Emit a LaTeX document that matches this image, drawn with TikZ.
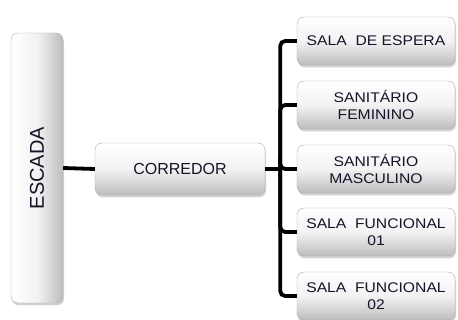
\documentclass[tikz,border=0pt]{standalone}
\usepackage{fontspec}
\usepackage{graphicx}
\setmainfont{Liberation Sans}
\newfontfamily\largo{Liberation Sans}[FakeStretch=1.12]
\usetikzlibrary{shadows}
\definecolor{texto}{RGB}{20,20,40}
\definecolor{borda}{RGB}{170,170,170}
\begin{document}
\begin{tikzpicture}[x=1pt,y=-1pt,
    caixa/.style={draw=borda, rounded corners=7pt, top color=white, bottom color=black!26,
      middle color=black!5, text=texto, align=center, inner sep=0pt,
      drop shadow={shadow xshift=1pt, shadow yshift=-2.5pt, opacity=0.35}},
    sala/.style={caixa, minimum width=158pt, minimum height=48pt,
      font=\largo\fontsize{14}{16.5}\selectfont},
    ligacao/.style={line width=3.8pt, rounded corners=5pt}]
  \useasboundingbox (0,0) rectangle (458,320);
  % escada e corredor
  \node[caixa, left color=white, right color=black!26, middle color=black!5,
    minimum width=52pt, minimum height=270pt] (escada) at (37,168)
    {\rotatebox{90}{\fontsize{20}{20}\selectfont ESCADA}};
  \node[caixa, minimum width=170pt, minimum height=52pt,
    font=\fontsize{16}{18}\selectfont] (corredor) at (180,169) {CORREDOR};
  % salas
  \foreach \nome/\cy/\txt in {espera/41/{SALA\ \ DE ESPERA},
      feminino/105/{SANIT\'ARIO\\FEMININO},
      masculino/169/{SANIT\'ARIO\\MASCULINO},
      funcum/232/{SALA\ \ FUNCIONAL\\01},
      funcdois/296/{SALA\ \ FUNCIONAL\\02}}
    \node[sala] (\nome) at (376,\cy) {\txt};
  % ligacoes
  \draw[ligacao] (escada.east) -- (corredor.west);
  \draw[ligacao] (corredor.east) -- ++(15,0) coordinate (tronco);
  \foreach \nome in {espera,feminino,masculino,funcum,funcdois}
    \draw[ligacao] (tronco) |- (\nome.west);
\end{tikzpicture}
\end{document}
